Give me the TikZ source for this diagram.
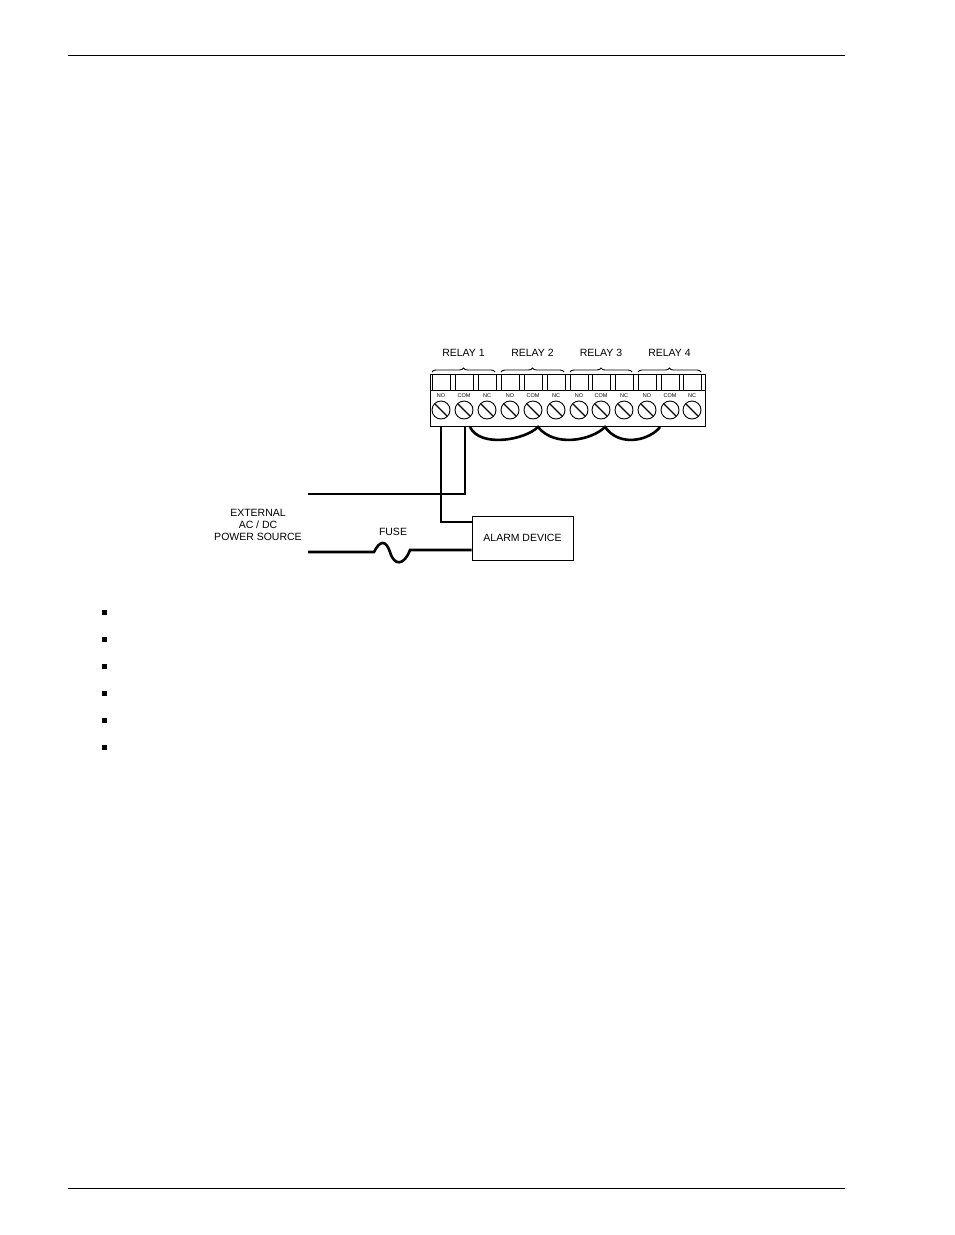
\documentclass[tikz,border=0pt]{standalone}
\usepackage{fontspec}
\setmainfont{Liberation Sans}
\usetikzlibrary{decorations.pathreplacing}
\begin{document}
\begin{tikzpicture}[x=1pt,y=-1pt,
  wire/.style={line width=2.6pt},
  thin/.style={line width=0.9pt},
  lbl/.style={font=\fontsize{10.5}{12}\selectfont,inner sep=0pt},
  tiny/.style={font=\fontsize{5.5}{6}\selectfont,inner sep=0pt}]
\useasboundingbox (0,0) rectangle (954,1235);
\draw[line width=0.8pt] (68,55) -- (845,55);
\draw[line width=0.8pt] (68,1188) -- (845,1188);
\foreach \y in {612,639,666,693,720,747} \fill (102,\y-2.5) rectangle (107,\y+2.5);
% terminal block
\draw[thin] (430,374) rectangle (705,426);
\draw[thin] (430,390) -- (705,390);
\foreach \x [count=\i] in {441,464,487,510,533,556,579,601,624,647,670,692}{
  \draw[thin] (\x-9,374) rectangle (\x+9,390);
  \draw[thin] (\x,410) circle (9);
  \draw[line width=1.3pt] (\x-6,404) -- (\x+6,416);
}
\foreach \x in {441,510,579,647} \node[tiny] at (\x,396) {NO};
\foreach \x in {464,533,601,670} \node[tiny] at (\x,396) {COM};
\foreach \x in {487,556,624,692} \node[tiny] at (\x,396) {NC};
\foreach \a/\b/\n in {432/495/1,501/564/2,570/632/3,638/701/4}{
  \draw[thin,decorate,decoration={brace,amplitude=4pt}] (\a,372) -- (\b,372);
  \node[lbl] at ({(\a+\b)/2},353) {RELAY \n};
}
% jumpers
\draw[wire] (470,427) .. controls (480,448) and (525,440) .. (538,427)
  .. controls (555,448) and (592,440) .. (605,427)
  .. controls (620,448) and (650,440) .. (660,427);
% alarm
\node[draw,thin,minimum width=101pt,minimum height=44pt,lbl] (alarm) at (522.5,538) {ALARM DEVICE};
\coordinate (no) at (441,426);
\coordinate (com) at (465,426);
\draw[wire] (no) |- (alarm.west |- 0,522);
\draw[wire] (com) |- (308,494);
\draw[wire] (308,552) -- (374,552) .. controls (380,540) and (386,540) .. (390,552)
  .. controls (394,566) and (404,566) .. (410,550) -- (alarm.west |- 0,550);
\node[lbl,align=center] at (258,525) {EXTERNAL\\AC / DC\\POWER SOURCE};
\node[lbl] at (393,532) {FUSE};
\end{tikzpicture}
\end{document}
